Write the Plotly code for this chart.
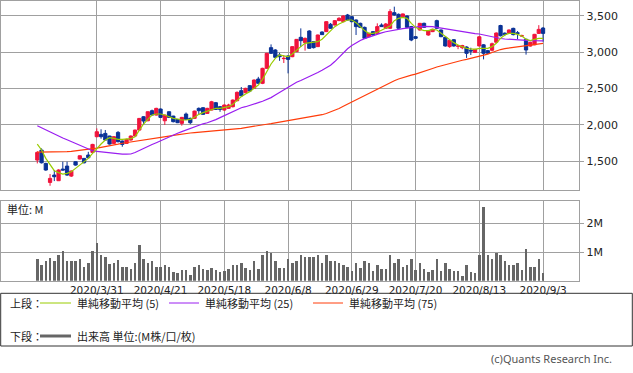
import pandas as pd
import plotly.graph_objects as go

# ---------------- data ----------------
holidays = ["2020-03-20", "2020-04-29", "2020-05-04", "2020-05-05", "2020-05-06",
            "2020-07-23", "2020-07-24", "2020-08-10"]
days = [d for d in pd.bdate_range("2020-03-10", "2020-09-03") if d.strftime("%Y-%m-%d") not in holidays]
dates = [f"{d.year}/{d.month}/{d.day}" for d in days]

tick_labels = ["2020/3/31", "2020/4/21", "2020/5/18", "2020/6/8", "2020/6/29",
               "2020/7/20", "2020/8/13", "2020/9/3"]
price_ticks = [1500, 2000, 2500, 3000, 3500]
vol_ticks = [1, 2]
vol_tick_labels = ["1M", "2M"]

opens = [1517,1654,1471,1210,1311,1233,1393,1434,1297,1494,
         1531,1540,1586,1622,1838,1870,1883,1847,1746,1897,
         1778,1746,1792,1847,1929,2112,2057,2195,2135,2218,
         2057,2181,2121,2076,2021,2149,2090,2090,2227,2236,
         2158,2204,2305,2250,2204,2227,2250,2332,2470,2442,
         2539,2502,2630,2571,2777,3061,3029,2960,2910,2946,
         2937,3006,3203,3130,3290,3143,3075,3276,3281,3382,
         3372,3432,3418,3510,3487,3441,3395,3340,3212,3281,
         3258,3372,3327,3327,3542,3519,3487,3496,3350,3212,
         3304,3395,3235,3281,3432,3304,3203,3075,3170,3080,
         3060,3070,3025,2995,3084,3100,3020,3025,3135,3365,
         3260,3260,3326,3266,3220,3176,3083,3100,3257,3330]
highs = [1640,1677,1480,1325,1380,1390,1494,1494,1375,1500,
         1580,1545,1630,1740,1952,1940,1930,1850,1845,1915,
         1785,1810,1855,1935,2095,2120,2185,2210,2235,2225,
         2140,2185,2125,2080,2110,2170,2100,2195,2240,2245,
         2235,2330,2315,2260,2280,2290,2350,2460,2520,2510,
         2545,2625,2660,2785,2990,3106,3040,2990,2960,2960,
         3080,3180,3326,3200,3300,3150,3240,3285,3425,3400,
         3440,3480,3505,3524,3495,3450,3405,3350,3265,3290,
         3395,3395,3400,3590,3624,3530,3530,3505,3360,3220,
         3400,3405,3300,3320,3445,3310,3210,3170,3180,3100,
         3100,3080,3060,3045,3220,3110,3030,3130,3270,3375,
         3270,3310,3335,3290,3240,3185,3140,3250,3370,3345]
lows = [1471,1470,1370,1164,1228,1230,1375,1300,1285,1440,
        1525,1470,1540,1610,1830,1810,1790,1730,1740,1760,
        1700,1740,1785,1840,1925,2000,2050,2130,2130,2095,
        2000,2095,2035,2025,1990,2070,2010,2085,2140,2140,
        2150,2200,2205,2180,2195,2220,2240,2325,2390,2435,
        2455,2495,2565,2560,2770,2975,2920,2880,2850,2708,
        2930,3000,3070,3020,3045,3050,3070,3235,3275,3320,
        3365,3428,3410,3435,3410,3235,3330,3180,3205,3225,
        3250,3345,3320,3320,3500,3320,3480,3330,3150,3180,
        3295,3335,3225,3275,3320,3205,3075,3060,3075,3040,
        3040,2920,2960,2990,3080,2900,2975,3010,3125,3215,
        3220,3250,3230,3180,3210,2965,3075,3095,3250,3143]
closes = [1622,1480,1380,1265,1288,1380,1380,1311,1366,1448,
          1576,1480,1549,1732,1906,1838,1792,1737,1838,1769,
          1732,1801,1847,1929,2089,2053,2181,2135,2227,2103,
          2135,2103,2044,2030,2103,2076,2030,2190,2195,2145,
          2227,2318,2213,2213,2273,2273,2341,2447,2400,2502,
          2465,2616,2571,2777,2983,2983,2928,2937,2914,2900,
          3075,3175,3157,3189,3052,3061,3235,3240,3418,3327,
          3432,3464,3496,3441,3418,3350,3340,3189,3258,3235,
          3350,3350,3386,3556,3510,3327,3524,3340,3166,3189,
          3395,3340,3290,3313,3327,3212,3084,3160,3084,3085,
          3090,2983,3015,3038,3210,2983,2985,3115,3262,3225,
          3245,3304,3240,3257,3225,3029,3134,3244,3312,3257]

ma5 = [1737,1655,1540,1449,1371,1344,1325,1334,1357,1403,
       1449,1495,1540,1609,1678,1737,1792,1824,1815,1802,
       1802,1802,1811,1838,1930,2012,2076,2136,2150,2150,
       2136,2113,2090,2081,2067,2067,2076,2104,2145,2168,
       2191,2214,2228,2228,2241,2250,2282,2333,2388,2424,
       2457,2502,2548,2626,2731,2837,2914,2960,2947,2937,
       2974,3029,3075,3121,3130,3130,3143,3176,3235,3281,
       3350,3386,3418,3441,3441,3405,3350,3295,3258,3258,
       3272,3304,3327,3359,3432,3464,3478,3464,3395,3340,
       3313,3295,3295,3313,3304,3258,3212,3166,3130,3098,
       3075,3052,3043,3038,3052,3052,3052,3075,3121,3189,
       3235,3258,3258,3244,3221,3176,3157,3176,3189,3189]
ma25 = [1989,1960,1930,1900,1870,1845,1820,1795,1770,1747,
        1720,1690,1662,1645,1635,1628,1620,1610,1603,1600,
        1598,1598,1600,1620,1650,1678,1705,1730,1755,1783,
        1810,1835,1861,1885,1908,1930,1952,1975,1998,2015,
        2030,2048,2072,2100,2128,2160,2190,2215,2235,2250,
        2265,2285,2305,2325,2345,2375,2410,2445,2485,2525,
        2560,2585,2610,2635,2662,2690,2720,2750,2782,2820,
        2870,2930,2990,3045,3090,3130,3160,3185,3207,3230,
        3250,3265,3280,3293,3305,3315,3322,3330,3340,3347,
        3350,3352,3352,3350,3340,3330,3315,3305,3295,3285,
        3275,3267,3260,3255,3249,3235,3220,3205,3195,3187,
        3180,3175,3170,3167,3164,3160,3158,3156,3154,3153]
ma75 = [1625,1625,1626,1627,1628,1629,1630,1632,1636,1642,
        1648,1654,1660,1667,1680,1692,1701,1712,1722,1735,
        1748,1758,1768,1777,1786,1795,1805,1814,1822,1830,
        1838,1847,1856,1866,1875,1883,1889,1895,1900,1906,
        1911,1916,1920,1923,1926,1929,1933,1941,1952,1963,
        1974,1985,1993,2001,2009,2017,2027,2037,2047,2056,
        2066,2076,2085,2095,2105,2115,2126,2140,2157,2177,
        2200,2225,2255,2285,2315,2345,2375,2405,2435,2465,
        2495,2525,2553,2580,2607,2630,2650,2667,2683,2698,
        2715,2735,2755,2775,2795,2812,2830,2845,2860,2875,
        2888,2900,2913,2925,2937,2950,2972,2995,3017,3035,
        3047,3056,3064,3072,3080,3088,3097,3105,3113,3121]

volume = [0.76,0.56,0.70,0.80,0.70,0.88,1.02,0.67,0.70,0.67,
          0.76,0.49,0.61,1.02,1.33,0.91,0.84,0.58,0.61,0.73,
          0.47,0.49,0.40,0.63,1.23,0.74,0.61,0.67,0.49,0.49,
          0.55,0.49,0.29,0.26,0.39,0.39,0.21,0.49,0.56,0.41,
          0.39,0.44,0.39,0.30,0.33,0.41,0.53,0.53,0.61,0.43,
          0.36,0.67,0.42,0.88,1.05,0.97,0.67,0.44,0.43,0.74,
          0.61,0.67,0.88,0.81,0.81,0.81,0.88,0.61,0.88,0.67,
          0.67,0.63,0.53,0.49,0.35,0.63,0.46,0.70,0.63,0.35,
          0.53,0.42,0.42,0.91,0.60,0.77,0.49,0.56,0.74,0.39,
          0.63,0.42,0.32,0.39,0.77,0.35,0.60,0.42,0.35,0.35,
          0.18,0.53,0.32,0.28,0.88,2.56,0.91,0.74,0.95,0.91,
          0.67,0.53,0.53,0.60,0.39,1.12,0.49,0.49,0.77,0.28]

# ---------------- style ----------------
W, H = 633, 373
RED = "#f0143c"
BLUE = "#0a3296"
C5 = "#99cc00"
C25 = "#9a1ef0"
C75 = "#ff3c0a"
VOLC = "#666666"
GRID = "#a0a0a0"
NUM_FONT = "DejaVu Sans"
JP_FONT = "Noto Sans CJK JP"


def px(x):
    return x / W


def py(y):
    return 1 - y / H


fig = go.Figure()
fig.add_trace(go.Candlestick(
    x=dates, open=opens, high=highs, low=lows, close=closes,
    increasing=dict(line=dict(color=RED, width=1), fillcolor=RED),
    decreasing=dict(line=dict(color=BLUE, width=1), fillcolor=BLUE),
    whiskerwidth=0, xaxis="x", yaxis="y", showlegend=False, hoverinfo="skip"))
for vals, col in [(ma75, C75), (ma25, C25), (ma5, C5)]:
    fig.add_trace(go.Scatter(x=dates, y=vals, mode="lines", line=dict(color=col, width=1.2),
                             xaxis="x", yaxis="y", showlegend=False, hoverinfo="skip"))
fig.add_trace(go.Bar(x=dates, y=volume, marker=dict(color=VOLC, line=dict(width=0)),
                     width=0.6, xaxis="x2", yaxis="y2", showlegend=False, hoverinfo="skip"))

xr = [-8.66, 127.53]
xdom = [px(0.5), px(579.3)]
common_x = dict(type="category", range=xr, domain=xdom, showgrid=True, gridcolor=GRID, gridwidth=1,
                tickmode="array", tickvals=tick_labels, showline=True, linecolor=GRID, mirror=True,
                zeroline=False, rangeslider=dict(visible=False), ticks="")
fig.update_layout(
    width=W, height=H, margin=dict(l=0, r=0, t=0, b=0),
    paper_bgcolor="white", plot_bgcolor="white",
    boxgap=0.15, boxgroupgap=0.1,
    bargap=0,
    hovermode=False,
    xaxis=dict(common_x, anchor="y", showticklabels=False, ticktext=tick_labels),
    xaxis2=dict(common_x, anchor="y2", ticktext=tick_labels, showticklabels=True,
                tickfont=dict(family=NUM_FONT, size=10.5, color="#222")),
    yaxis=dict(domain=[py(190.3), py(0.5)], range=[1101.6, 3708.8], side="right",
               tickmode="array", tickvals=price_ticks, tickformat=",",
               showgrid=True, gridcolor=GRID, gridwidth=1, zeroline=False,
               showline=True, linecolor=GRID, mirror=True, ticks="outside", ticklen=4, tickcolor=GRID,
               tickfont=dict(family=NUM_FONT, size=11, color="#222"), anchor="x"),
    yaxis2=dict(domain=[py(280.7), py(201)], range=[0, 2.777], side="right",
                tickmode="array", tickvals=vol_ticks, ticktext=vol_tick_labels,
                showgrid=True, gridcolor=GRID, gridwidth=1, zeroline=False,
                showline=True, linecolor=GRID, mirror=True, ticks="outside", ticklen=4, tickcolor=GRID,
                tickfont=dict(family=NUM_FONT, size=11, color="#222"), anchor="x2"),
)

shapes = [
    dict(type="rect", xref="paper", yref="paper", x0=px(0.7), x1=px(632.3), y0=py(346), y1=py(293.3),
         line=dict(color="#333333", width=1), fillcolor="rgba(0,0,0,0)"),
    dict(type="line", xref="paper", yref="paper", x0=px(40), x1=px(71), y0=py(303), y1=py(303),
         line=dict(color=C5, width=1)),
    dict(type="line", xref="paper", yref="paper", x0=px(169), x1=px(199), y0=py(303), y1=py(303),
         line=dict(color=C25, width=1)),
    dict(type="line", xref="paper", yref="paper", x0=px(313), x1=px(343), y0=py(303), y1=py(303),
         line=dict(color=C75, width=1)),
    dict(type="line", xref="paper", yref="paper", x0=px(40), x1=px(71), y0=py(336), y1=py(336),
         line=dict(color=VOLC, width=3)),
]
fig.update_layout(shapes=shapes)

jp = dict(family=JP_FONT, size=11, color="#222")
annots = [
    ("上段：", 8, 303), ("単純移動平均 (5)", 75, 303), ("単純移動平均 (25)", 203, 303),
    ("単純移動平均 (75)", 347, 303), ("下段：", 8, 336), ("出来高 単位:(M株/口/枚)", 75, 336),
    ("単位: M", 5, 209),
]
for t, x, y in annots:
    fig.add_annotation(text=t, xref="paper", yref="paper", x=px(x), y=py(y), xanchor="left",
                       yanchor="middle", showarrow=False, font=jp)
fig.add_annotation(text="(c)Quants Research Inc.", xref="paper", yref="paper", x=px(614), y=py(358),
                   xanchor="right", yanchor="middle", showarrow=False,
                   font=dict(family="Noto Sans", size=11, color="#555"))

fig.write_html("out.html", config={"displayModeBar": False, "staticPlot": True},
               post_script="document.body.style.margin='0';document.body.style.overflow='hidden';")
